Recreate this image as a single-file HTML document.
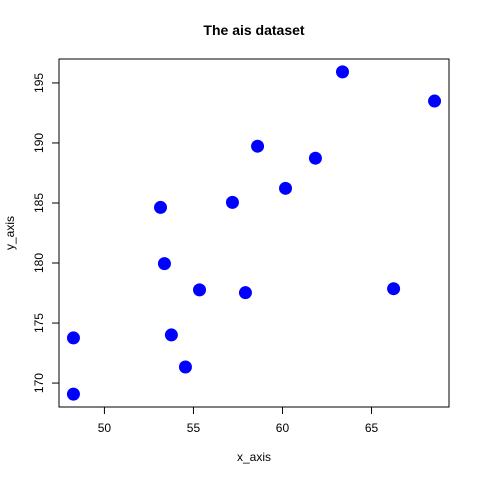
<!DOCTYPE html>
<html><head><meta charset="utf-8"><style>
body{margin:0;background:#fff}
svg{display:block;font-family:"Liberation Sans",sans-serif}
</style></head><body>
<svg id="chart" width="480" height="480">
<rect width="480" height="480" fill="#fff"/>
<text x="254" y="35" text-anchor="middle" font-size="14" font-weight="bold">The ais dataset</text>
<text x="254" y="461" text-anchor="middle" font-size="12">x_axis</text>
<text x="14" y="233" text-anchor="middle" font-size="12" transform="rotate(-90 14 233)">y_axis</text>
<rect x="59" y="59" width="390" height="348" fill="none" stroke="#000"/>
<g id="axes"></g>
<g id="points"></g>
</svg>
<script>
const xValues=[48.26,48.26,53.76,54.55,53.15,53.37,55.34,57.19,57.92,58.60,60.17,61.85,63.37,66.24,68.54];
const yValues=[169.08,173.76,174.01,171.34,184.63,179.95,177.76,185.05,177.53,189.73,186.22,188.73,195.92,177.86,193.49];
const xTicks=[50,55,60,65];
const yTicks=[170,175,180,185,190,195];
const NS="http://www.w3.org/2000/svg";
const L=59,R=449,T=59,B=407;
function ext(a){const mn=Math.min(...a),mx=Math.max(...a),d=(mx-mn)*0.04;return [mn-d,mx+d];}
const [x0,x1]=ext(xValues),[y0,y1]=ext(yValues);
const sx=v=>L+(v-x0)/(x1-x0)*(R-L);
const sy=v=>B-(v-y0)/(y1-y0)*(B-T);
const axes=document.getElementById('axes');
function mk(tag,at,parent){const e=document.createElementNS(NS,tag);for(const k in at)e.setAttribute(k,at[k]);parent.appendChild(e);return e;}
mk('line',{x1:sx(xTicks[0]),x2:sx(xTicks[xTicks.length-1]),y1:B,y2:B,stroke:'#000'},axes);
xTicks.forEach(t=>{
 const l=mk('line',{x1:sx(t),x2:sx(t),y1:B,y2:B+7,stroke:'#000'},axes);
 
 
 const tx=mk('text',{x:sx(t),y:B+25,'text-anchor':'middle','font-size':12},axes);
 tx.textContent=t;
 
 
});
mk('line',{x1:L,x2:L,y1:sy(yTicks[0]),y2:sy(yTicks[yTicks.length-1]),stroke:'#000'},axes);
yTicks.forEach(t=>{
 const l=mk('line',{x1:L-7,x2:L,y1:sy(t),y2:sy(t),stroke:'#000'},axes);
 
 
 const x=L-16,y=sy(t);
 const tx=mk('text',{x:x,y:y,'text-anchor':'middle','font-size':12,transform:`rotate(-90 ${x} ${y})`},axes);
 tx.textContent=t;
 
 
});
const pts=document.getElementById('points');
xValues.forEach((v,i)=>{
 const c=mk('circle',{cx:sx(v),cy:sy(yValues[i]),r:6.5,fill:'#0000ff'},pts);
 
 
});
</script>
</body></html>
